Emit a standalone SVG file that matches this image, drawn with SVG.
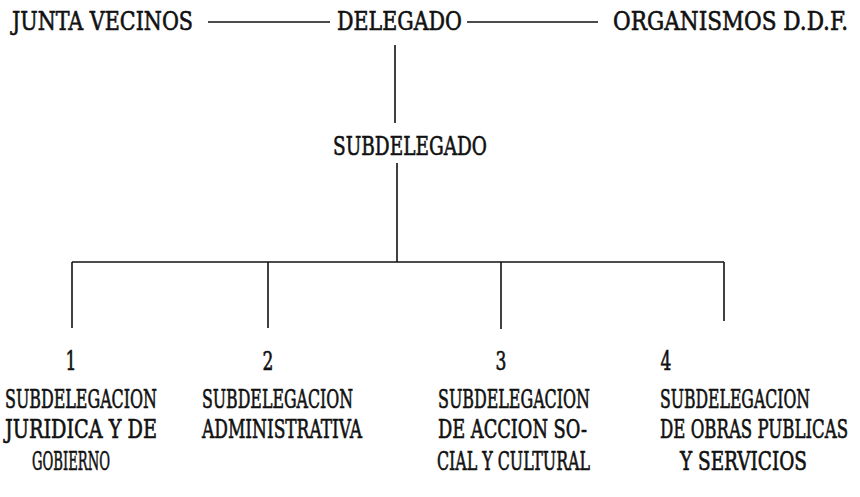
<svg xmlns="http://www.w3.org/2000/svg" width="860" height="497" viewBox="0 0 860 497">
<style>
text{font-family:"DejaVu Serif Condensed","DejaVu Serif","Liberation Serif",serif;font-size:19px;fill:#111;stroke:#111;stroke-width:0.45;}
.t{font-size:20px;}
.n{text-anchor:middle;}
.c line{stroke:#111;stroke-width:1.6;fill:none;}
</style>
<rect width="860" height="497" fill="#fff"/>
<g class="c" id="connectors">
<line x1="208" y1="22" x2="330" y2="22"/>
<line x1="467" y1="22" x2="598" y2="22"/>
<line x1="395" y1="45" x2="395" y2="123"/>
<line x1="397" y1="163" x2="397" y2="262"/>
<line x1="72" y1="262" x2="724" y2="262"/>
<line x1="72" y1="262" x2="72" y2="328"/>
<line x1="268" y1="262" x2="268" y2="328"/>
<line x1="501" y1="262" x2="501" y2="329"/>
<line x1="724" y1="262" x2="724" y2="321"/>
</g>
<g id="junta"><text class="t" transform="translate(12,30) scale(1,1.3)" textLength="181" lengthAdjust="spacingAndGlyphs">JUNTA VECINOS</text></g>
<g id="delegado"><text class="t" transform="translate(337,30) scale(1,1.3)" textLength="125" lengthAdjust="spacingAndGlyphs">DELEGADO</text></g>
<g id="organismos"><text class="t" transform="translate(613,30) scale(1,1.3)" textLength="235" lengthAdjust="spacingAndGlyphs">ORGANISMOS D.D.F.</text></g>
<g id="subdelegado"><text class="t" transform="translate(333,155) scale(1,1.3)" textLength="154" lengthAdjust="spacingAndGlyphs">SUBDELEGADO</text></g>
<g id="sub1">
<text class="n" transform="translate(71,370) scale(1,1.35)">1</text>
<text transform="translate(5,408) scale(1,1.35)" textLength="152" lengthAdjust="spacingAndGlyphs">SUBDELEGACION</text>
<text transform="translate(5,438) scale(1,1.35)" textLength="152" lengthAdjust="spacingAndGlyphs">JURIDICA Y DE</text>
<text transform="translate(32,470) scale(1,1.35)" textLength="78" lengthAdjust="spacingAndGlyphs">GOBIERNO</text>
</g>
<g id="sub2">
<text class="n" transform="translate(268,370) scale(1,1.35)">2</text>
<text transform="translate(202,408) scale(1,1.35)" textLength="151" lengthAdjust="spacingAndGlyphs">SUBDELEGACION</text>
<text transform="translate(202,438) scale(1,1.35)" textLength="160" lengthAdjust="spacingAndGlyphs">ADMINISTRATIVA</text>
</g>
<g id="sub3">
<text class="n" transform="translate(501,370) scale(1,1.35)">3</text>
<text transform="translate(438,408) scale(1,1.35)" textLength="152" lengthAdjust="spacingAndGlyphs">SUBDELEGACION</text>
<text transform="translate(438,438) scale(1,1.35)" textLength="149" lengthAdjust="spacingAndGlyphs">DE ACCION SO-</text>
<text transform="translate(437,470) scale(1,1.35)" textLength="153" lengthAdjust="spacingAndGlyphs">CIAL Y CULTURAL</text>
</g>
<g id="sub4">
<text class="n" transform="translate(666,370) scale(1,1.35)">4</text>
<text transform="translate(660,408) scale(1,1.35)" textLength="150" lengthAdjust="spacingAndGlyphs">SUBDELEGACION</text>
<text transform="translate(660,438) scale(1,1.35)" textLength="188" lengthAdjust="spacingAndGlyphs">DE OBRAS PUBLICAS</text>
<text transform="translate(680,470) scale(1,1.35)" textLength="127" lengthAdjust="spacingAndGlyphs">Y SERVICIOS</text>
</g>
</svg>
